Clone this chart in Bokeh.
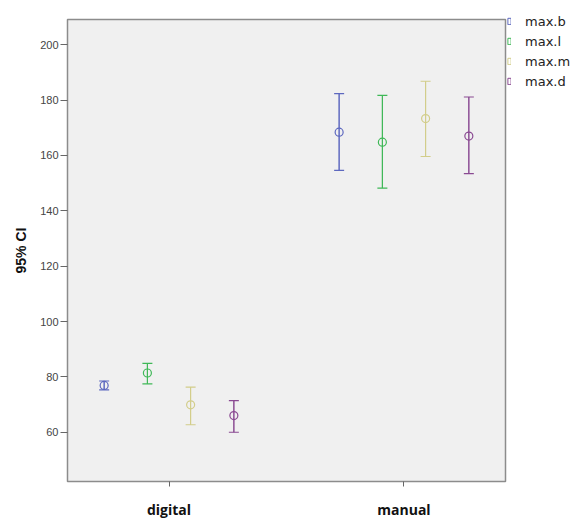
from bokeh.plotting import figure
from bokeh.models import (FactorRange, Range1d, FixedTicker, ColumnDataSource,
                          Legend, LegendItem)
from bokeh.transform import dodge
from bokeh.embed import file_html
from bokeh.resources import INLINE

groups = ["digital", "manual"]
series = ["max.b", "max.l", "max.m", "max.d"]
colors = ["#5d68bf", "#3fb857", "#d2cd8a", "#8a4a92"]

mean_b = [76.9, 168.4]
low_b = [75.3, 154.6]
up_b = [78.5, 182.3]

mean_l = [81.4, 164.8]
low_l = [77.5, 148.2]
up_l = [84.9, 181.7]

mean_m = [69.9, 173.3]
low_m = [62.7, 159.6]
up_m = [76.3, 186.8]

mean_d = [66.0, 167.0]
low_d = [60.0, 153.4]
up_d = [71.4, 181.1]

y_ticks = [60, 80, 100, 120, 140, 160, 180, 200]

means = [mean_b, mean_l, mean_m, mean_d]
lows = [low_b, low_l, low_m, low_d]
ups = [up_b, up_l, up_m, up_d]
offsets = [-0.276, -0.092, 0.092, 0.276]

p = figure(frame_width=438, frame_height=462,
           x_range=FactorRange(factors=groups, range_padding=-0.068,
                               range_padding_units="absolute"),
           y_range=Range1d(42.2, 209.1),
           output_backend="svg", toolbar_location=None,
           min_border_left=67, min_border_right=0,
           min_border_top=19, min_border_bottom=38)

p.background_fill_color = "#f0f0f0"
p.border_fill_color = "white"
p.outline_line_color = "#8c8c8c"
p.outline_line_width = 1.5
p.xgrid.visible = False
p.ygrid.visible = False

items = []
for s, c, m, lo, up, off in zip(series, colors, means, lows, ups, offsets):
    src = ColumnDataSource(dict(group=groups, mean=m, low=lo, up=up))
    x = dodge("group", off, range=p.x_range)
    stem = p.vbar(x=x, width=0.0001, top="up", bottom="low", source=src,
                  fill_color=None, line_color=c, line_width=1)
    p.scatter(x=x, y="up", source=src, marker="dash", size=10,
              line_color=c, line_width=1.2)
    p.scatter(x=x, y="low", source=src, marker="dash", size=10,
              line_color=c, line_width=1.2)
    p.scatter(x=x, y="mean", source=src, marker="circle", size=8,
              fill_color=None, line_color=c, line_width=1.2)
    items.append(LegendItem(label=s, renderers=[stem]))

legend = Legend(items=items, location=(2, 390), padding=0, margin=0,
                spacing=0, glyph_width=4, glyph_height=8, label_height=20,
                label_standoff=14, border_line_color=None,
                background_fill_alpha=0,
                label_text_font="DejaVu Sans", label_text_font_size="13px",
                label_text_color="#222222")
p.add_layout(legend, "right")

# y axis
p.yaxis.ticker = FixedTicker(ticks=y_ticks)
p.yaxis.axis_label = "95% CI"
p.yaxis.axis_label_text_font = "Liberation Sans"
p.yaxis.axis_label_text_font_style = "bold"
p.yaxis.axis_label_text_font_size = "14px"
p.yaxis.axis_label_text_color = "#111111"
p.yaxis.axis_label_standoff = 8
p.yaxis.major_label_text_font = "Liberation Sans"
p.yaxis.major_label_text_font_size = "11px"
p.yaxis.major_label_text_color = "#444444"
p.yaxis.major_label_standoff = 2
p.yaxis.major_tick_out = 7
p.yaxis.major_tick_in = 0
p.yaxis.minor_tick_out = 0
p.yaxis.minor_tick_in = 0
p.yaxis.major_tick_line_color = "#666666"
p.yaxis.axis_line_color = None

# x axis
p.xaxis.major_label_text_font = "Open Sans"
p.xaxis.major_label_text_font_style = "bold"
p.xaxis.major_label_text_font_size = "14px"
p.xaxis.major_label_text_color = "#111111"
p.xaxis.major_label_standoff = 13
p.xaxis.major_tick_out = 5
p.xaxis.major_tick_in = 0
p.xaxis.major_tick_line_color = "#666666"
p.xaxis.axis_line_color = None

open("out.html", "w").write(file_html(p, INLINE))
